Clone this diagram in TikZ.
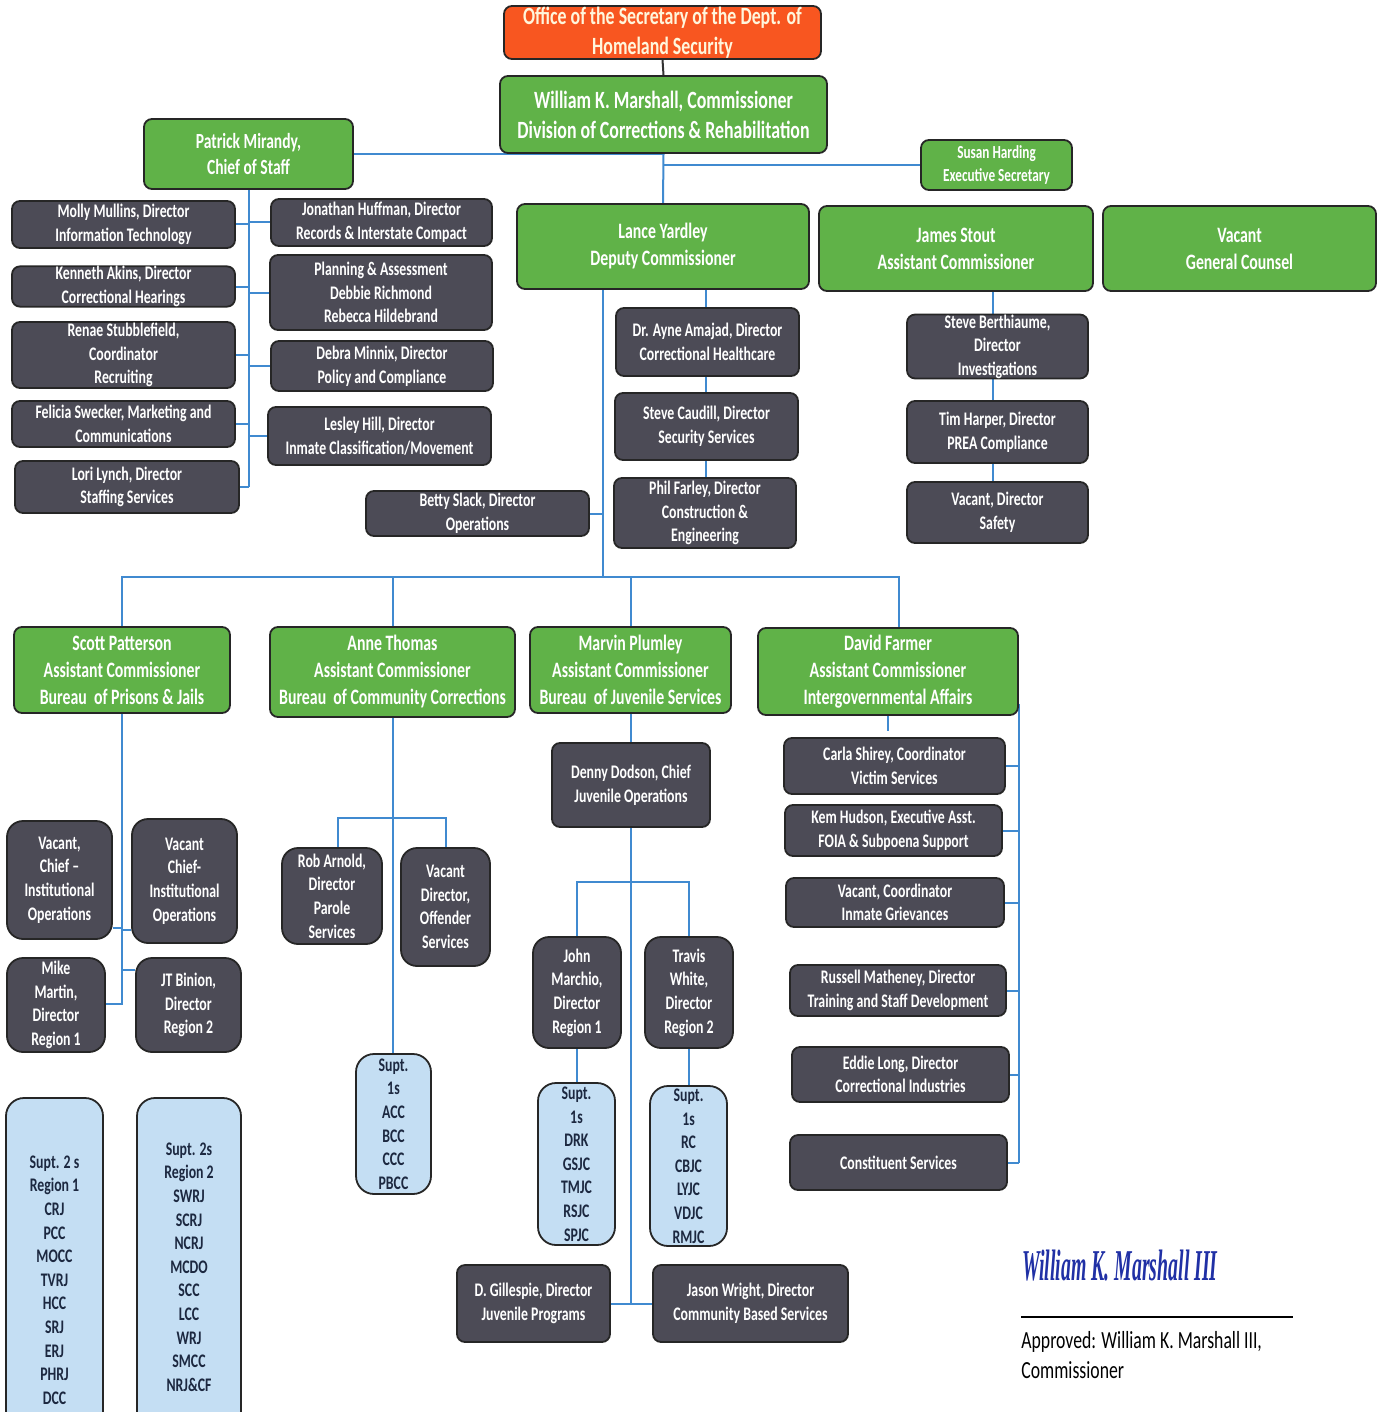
\documentclass[tikz,border=0pt]{standalone}
\usepackage{fontspec}
\setmainfont{Carlito}[FakeStretch=0.72]
\newfontfamily\sigfont{Liberation Serif}[FakeStretch=0.45]
\usetikzlibrary{backgrounds}
\definecolor{grnc}{RGB}{96,178,72}
\definecolor{gryc}{RGB}{76,75,86}
\definecolor{bluc}{RGB}{196,222,243}
\definecolor{orgc}{RGB}{248,86,32}
\definecolor{orgtxt}{RGB}{255,246,220}
\definecolor{navy}{RGB}{28,40,64}
\definecolor{linec}{RGB}{64,138,208}
\definecolor{sigc}{RGB}{32,48,165}
\newcommand\fstd{\fontsize{9.6}{11.8}\selectfont\bfseries}
\newcommand\fbig{\fontsize{12.4}{15}\selectfont\bfseries}
\newcommand\fmid{\fontsize{11}{13.5}\selectfont\bfseries}
\newcommand\fpat{\fontsize{10.8}{13.1}\selectfont\bfseries}
\newcommand\fsus{\fontsize{9.2}{11.5}\selectfont\bfseries}
\newcommand\fapp{\fontsize{12.3}{15}\selectfont}
\newcommand\ob[7]{\node[#6, minimum width={(#4-#2)*0.5pt}, minimum height={(#5-#3)*0.5pt}] (#1) at ({(#2+#4)/2},{(#3+#5)/2}) {#7};}
\tikzset{
  bx/.style={rounded corners=4pt, draw=black!85, line width=0.9pt, align=center, inner sep=0pt, text=white, font=\fstd},
  grn/.style={bx, fill=grnc, font=\fmid},
  gry/.style={bx, fill=gryc},
  blu/.style={bx, fill=bluc, text=navy, rounded corners=9pt},
  org/.style={bx, fill=orgc, text=orgtxt, font=\fbig},
  conn/.style={draw=linec, line width=1pt},
  dconn/.style={draw=black!80, line width=1pt},
}
\begin{document}
\begin{tikzpicture}[x=0.5pt, y=-0.5pt]
\useasboundingbox (0,0) rectangle (1382,1412);
% top level
\ob{office}{504}{6}{821}{59}{org}{Office of the Secretary of the Dept. of\\Homeland Security}
\ob{william}{500}{76}{827}{153}{grn, font=\fbig}{William K. Marshall, Commissioner\\Division of Corrections \& Rehabilitation}
\ob{patrick}{144}{119}{353}{189}{grn, font=\fpat}{Patrick Mirandy,\\Chief of Staff}
\ob{susan}{921}{140}{1072}{190}{grn, font=\fsus}{Susan Harding\\Executive Secretary}
\ob{lance}{517}{204}{809}{289}{grn}{Lance Yardley\\Deputy Commissioner}
\ob{james}{819}{206}{1093}{291}{grn}{James Stout\\Assistant Commissioner}
\ob{gc}{1103}{206}{1376}{291}{grn}{Vacant\\General Counsel}
% chief of staff reports
\ob{molly}{12}{201}{235}{248}{gry}{Molly Mullins, Director\\Information Technology}
\ob{akins}{12}{267}{235}{306}{gry}{Kenneth Akins, Director\\Correctional Hearings}
\ob{renae}{12}{322}{235}{388}{gry}{Renae Stubblefield,\\Coordinator\\Recruiting}
\ob{felicia}{12}{401}{235}{447}{gry}{Felicia Swecker, Marketing and\\Communications}
\ob{lori}{15}{461}{239}{513}{gry}{Lori Lynch, Director\\Staffing Services}
\ob{huffman}{271}{199}{492}{246}{gry}{Jonathan Huffman, Director\\Records \& Interstate Compact}
\ob{planning}{270}{255}{492}{330}{gry}{Planning \& Assessment\\Debbie Richmond\\Rebecca Hildebrand}
\ob{minnix}{271}{341}{493}{391}{gry}{Debra Minnix, Director\\Policy and Compliance}
\ob{lesley}{268}{407}{491}{465}{gry}{Lesley Hill, Director\\Inmate Classification/Movement}
% deputy commissioner reports
\ob{betty}{366}{491}{589}{536}{gry}{Betty Slack, Director\\Operations}
\ob{ayne}{616}{308}{799}{376}{gry}{Dr. Ayne Amajad, Director\\Correctional Healthcare}
\ob{caudill}{615}{393}{798}{460}{gry}{Steve Caudill, Director\\Security Services}
\ob{farley}{614}{478}{796}{548}{gry}{Phil Farley, Director\\Construction \&\\Engineering}
% assistant commissioner reports
\ob{berth}{907}{315}{1088}{378}{gry}{Steve Berthiaume,\\Director\\Investigations}
\ob{harper}{907}{401}{1088}{463}{gry}{Tim Harper, Director\\PREA Compliance}
\ob{safety}{907}{482}{1088}{543}{gry}{Vacant, Director\\Safety}
% bureaus
\ob{scott}{14}{627}{230}{713}{grn}{Scott Patterson\\Assistant Commissioner\\Bureau\ \ of Prisons \& Jails}
\ob{anne}{270}{627}{515}{717}{grn}{Anne Thomas\\Assistant Commissioner\\Bureau\ \ of Community Corrections}
\ob{marvin}{530}{627}{731}{713}{grn}{Marvin Plumley\\Assistant Commissioner\\Bureau\ \ of Juvenile Services}
\ob{david}{758}{628}{1018}{715}{grn}{David Farmer\\Assistant Commissioner\\Intergovernmental Affairs}
% prisons & jails
\ob{vacl}{7}{821}{112}{939}{gry, rounded corners=8pt}{Vacant,\\Chief --\\Institutional\\Operations}
\ob{vacr}{132}{819}{237}{943}{gry, rounded corners=8pt}{Vacant\\Chief-\\Institutional\\Operations}
\ob{mike}{7}{958}{105}{1052}{gry, rounded corners=8pt}{Mike\\Martin,\\Director\\Region 1}
\ob{jt}{136}{958}{241}{1052}{gry, rounded corners=8pt}{JT Binion,\\Director\\Region 2}
\ob{sr1}{6}{1098}{103}{1462}{blu}{Supt. 2 s\\Region 1\\CRJ\\PCC\\MOCC\\TVRJ\\HCC\\SRJ\\ERJ\\PHRJ\\DCC}
\ob{sr2}{137}{1098}{241}{1436}{blu}{Supt. 2s\\Region 2\\SWRJ\\SCRJ\\NCRJ\\MCDO\\SCC\\LCC\\WRJ\\SMCC\\NRJ\&CF}
% community corrections
\ob{rob}{282}{848}{382}{944}{gry, rounded corners=8pt}{Rob Arnold,\\Director\\Parole\\Services}
\ob{vacoff}{401}{848}{490}{966}{gry, rounded corners=8pt}{Vacant\\Director,\\Offender\\Services}
\ob{supa}{356}{1054}{431}{1194}{blu}{Supt.\\1s\\ACC\\BCC\\CCC\\PBCC}
% juvenile services
\ob{denny}{552}{743}{710}{827}{gry}{Denny Dodson, Chief\\Juvenile Operations}
\ob{john}{533}{937}{621}{1048}{gry, rounded corners=8pt}{John\\Marchio,\\Director\\Region 1}
\ob{travis}{645}{937}{733}{1048}{gry, rounded corners=8pt}{Travis\\White,\\Director\\Region 2}
\ob{sdrk}{538}{1083}{615}{1245}{blu}{Supt.\\1s\\DRK\\GSJC\\TMJC\\RSJC\\SPJC}
\ob{src}{650}{1086}{727}{1246}{blu}{Supt.\\1s\\RC\\CBJC\\LYJC\\VDJC\\RMJC}
\ob{gill}{457}{1265}{610}{1342}{gry}{D. Gillespie, Director\\Juvenile Programs}
\ob{jason}{653}{1265}{848}{1342}{gry}{Jason Wright, Director\\Community Based Services}
% intergovernmental affairs
\ob{carla}{784}{738}{1005}{794}{gry}{Carla Shirey, Coordinator\\Victim Services}
\ob{kem}{785}{805}{1002}{856}{gry}{Kem Hudson, Executive Asst.\\FOIA \& Subpoena Support}
\ob{vcoord}{786}{878}{1004}{927}{gry}{Vacant, Coordinator\\Inmate Grievances}
\ob{russell}{790}{965}{1006}{1016}{gry}{Russell Matheney, Director\\Training and Staff Development}
\ob{eddie}{792}{1047}{1009}{1102}{gry}{Eddie Long, Director\\Correctional Industries}
\ob{const}{790}{1135}{1007}{1190}{gry}{Constituent Services}
% signature block
\node[text=sigc, font={\sigfont\fontsize{22}{22}\selectfont\bfseries\itshape}] (sig) at (1120,1266) {William K. Marshall III};
\coordinate (ls) at (1021,1317);
\coordinate (le) at (1293,1317);
\draw[black, line width=1pt] (ls) -- (le);
\node[anchor=west, align=left, inner sep=0pt, font=\fapp] (appr) at (1021,1355) {Approved: William K. Marshall III,\\Commissioner};
% helper coordinates
\coordinate (trunk) at (603,577);
\coordinate (dtop) at (899,628);
\coordinate (jx) at (993,300);
\coordinate (s1) at (123,928);
\coordinate (s2) at (123,930);
\coordinate (s3) at (123,970);
\coordinate (s4) at (123,1004);
\coordinate (rb) at (338,818);
\coordinate (vb) at (446,818);
\coordinate (mb) at (631,882);
\coordinate (dstub) at (889,731);
\coordinate (ax) at (706,300);
\begin{pgfonlayer}{background}
\draw[dconn] (office.south) -- (william.north);
\draw[conn] (william.south) -- (lance.north);
\draw[conn] (patrick.east) -- (patrick.east -| william.south);
\draw[conn] (susan.west) -- (susan.west -| william.south);
% chief of staff
\draw[conn] (patrick.south) -- (patrick.south |- lori.east);
\foreach \n in {molly,akins,renae,felicia,lori}
  \draw[conn] (\n.east) -- (\n.east -| patrick.south);
\foreach \n in {huffman,planning,minnix,lesley}
  \draw[conn] (\n.west) -- (\n.west -| patrick.south);
% deputy
\draw[conn] (ax |- lance.south) -- (ax |- farley.north);
\draw[conn] (trunk |- lance.south) -- (trunk);
\draw[conn] (betty.east) -- (betty.east -| trunk);
\draw[conn] (jx |- james.south) -- (jx |- safety.north);
\draw[conn] (scott.north) -- (scott.north |- trunk) -- (dtop |- trunk) -- (dtop);
\draw[conn] (anne.north) -- (anne.north |- trunk);
\draw[conn] (marvin.north) -- (marvin.north |- trunk);
% prisons
\draw[conn] (scott.south) -- (scott.south |- s4);
\draw[conn] (vacl.east |- s1) -- (s1);
\draw[conn] (vacr.west |- s2) -- (s2);
\draw[conn] (jt.west |- s3) -- (s3);
\draw[conn] (mike.east |- s4) -- (s4);
% community
\draw[conn] (anne.south) -- (anne.south |- supa.north);
\draw[conn] (rb |- rob.north) -- (rb) -- (vb) -- (vb |- vacoff.north);
% juvenile
\draw[conn] (marvin.south) -- (marvin.south |- denny.north);
\draw[conn] (denny.south) -- (denny.south |- gill.east);
\draw[conn] (gill.east) -- (jason.west);
\draw[conn] (john.north) |- (mb) -| (travis.north);
\draw[conn] (john.south) -- (john.south |- sdrk.north);
\draw[conn] (travis.south) -- (travis.south |- src.north);
% intergovernmental
\draw[conn] (david.south) -- (david.south |- dstub);
\draw[conn] ([yshift=6pt]david.south east) -- (david.south east |- const.east);
\foreach \n in {carla,kem,vcoord,russell,eddie,const}
  \draw[conn] (\n.east) -- (\n.east -| david.south east);
\end{pgfonlayer}
\end{tikzpicture}
\end{document}
